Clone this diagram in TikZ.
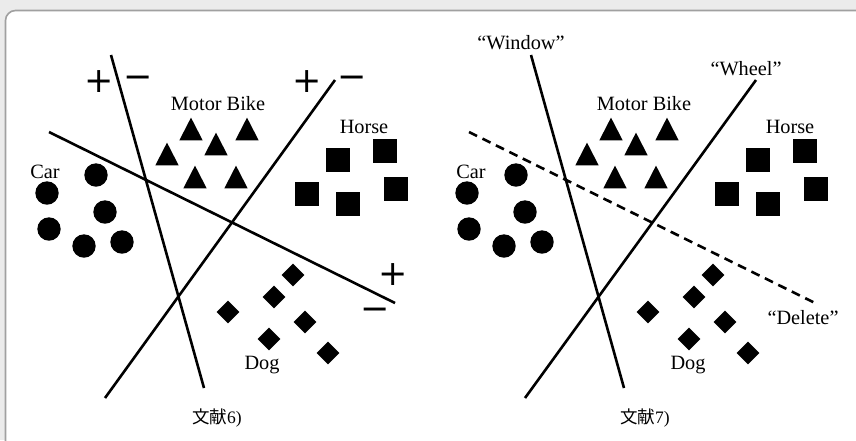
\documentclass[tikz,border=0pt]{standalone}
\usepackage{fontspec}
\setmainfont{Liberation Serif}
\newfontfamily\cjkfont{Noto Sans CJK JP}
\newfontfamily\symfont{DejaVu Sans}
\usetikzlibrary{shapes.geometric}
\definecolor{pagebg}{HTML}{EBEBEB}
\definecolor{cardline}{HTML}{A0A0A0}
\tikzset{
  sep/.style={line width=2.6pt},
  dsep/.style={sep, dash pattern=on 9pt off 6pt},
  lbl/.style={font=\fontsize{20.3}{22}\selectfont, inner sep=0pt},
  pm/.style={font=\symfont\fontsize{35}{35}\selectfont, inner sep=0pt},
  ref/.style={font=\fontsize{17.5}{19}\selectfont, inner sep=0pt},
  dot/.style={circle, fill=black, minimum size=23.4pt, inner sep=0pt},
  sq/.style={rectangle, fill=black, minimum size=24pt, inner sep=0pt},
  dia/.style={diamond, aspect=1, fill=black, minimum width=23pt, minimum height=23pt, inner sep=0pt},
  tri/.pic={\fill (0,-11.4) -- (11.65,11.3) -- (-11.65,11.3) -- cycle;}
}
\begin{document}
\begin{tikzpicture}[x=1pt,y=-1pt]
\clip (0,0) rectangle (856,440);
\fill[pagebg] (0,0) rectangle (856,440);
\draw[cardline, line width=1.6pt, fill=white, rounded corners=10pt] (5.5,10.5) rectangle (880,470);
\useasboundingbox (0,0) rectangle (856,440);

% shapes, both panels
\foreach \dx/\p in {0/L,420/R}{
  \foreach \x/\y [count=\i] in {96/175,47/193,105/212,49/229,84/246,122/242}
    \node[dot] (\p c\i) at (\x+\dx,\y) {};
  \foreach \x/\y [count=\i] in {191/129,247/129,216/144,167/154,195/177,236/177}
    \pic at (\x+\dx,\y) {tri};
  \foreach \x/\y [count=\i] in {338/160,385/151,307/194,348/204,396/189}
    \node[sq] (\p s\i) at (\x+\dx,\y) {};
  \foreach \x/\y [count=\i] in {293/275,274/297,228/312,305/322,269/339,328/353}
    \node[dia] (\p d\i) at (\x+\dx,\y) {};
}

% left panel lines
\coordinate (L1a) at (111,55);  \coordinate (L1b) at (204,388);
\coordinate (L2a) at (335,80);  \coordinate (L2b) at (105,398);
\coordinate (L3a) at (49,132);  \coordinate (L3b) at (395,303);
\draw[sep] (L1a) -- (L1b);
\draw[sep] (L2a) -- (L2b);
\draw[sep] (L3a) -- (L3b);

% right panel lines
\coordinate (R1a) at (531,55);  \coordinate (R1b) at (624,388);
\coordinate (R2a) at (756,80);  \coordinate (R2b) at (525,398);
\coordinate (R3a) at (469,132); \coordinate (R3b) at (815,303);
\draw[sep] (R1a) -- (R1b);
\draw[sep] (R2a) -- (R2b);
\draw[dsep] (R3a) -- (R3b);

% plus / minus
\node[pm] (p1) at (99,82) {+};
\node[pm] (m1) at (138,82) {−};
\node[pm] (p2) at (307,82) {+};
\node[pm] (m2) at (352,82) {−};
\node[pm] (p3) at (393,275) {+};
\node[pm] (m3) at (375,314) {−};

% labels left
\node[lbl] (Lmb) at (218,104) {Motor Bike};
\node[lbl] (Lho) at (364,127) {Horse};
\node[lbl] (Lca) at (45,172) {Car};
\node[lbl] (Ldo) at (262,365) {Dog};
\node[ref] (Lref) at (217,418) {{\cjkfont 文献}6)};

% labels right
\node[lbl] (Rmb) at (644,104) {Motor Bike};
\node[lbl] (Rho) at (790,127) {Horse};
\node[lbl] (Rca) at (471,172) {Car};
\node[lbl] (Rdo) at (688,365) {Dog};
\node[lbl] (Rwi) at (521,43) {“Window”};
\node[lbl] (Rwh) at (746,69) {“Wheel”};
\node[lbl] (Rde) at (803,318) {“Delete”};
\node[ref] (Rref) at (645,418) {{\cjkfont 文献}7)};
\end{tikzpicture}
\end{document}
